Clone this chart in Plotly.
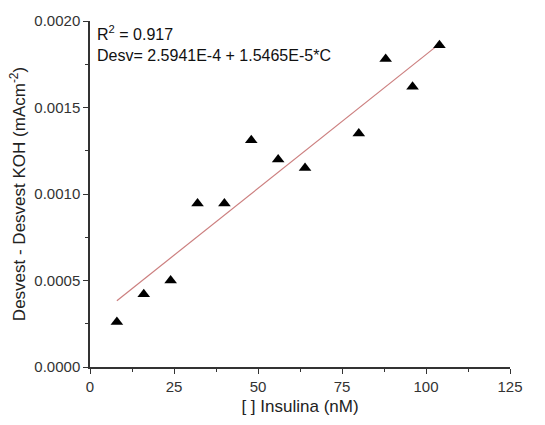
import plotly.graph_objects as go

conc = [8, 16, 24, 32, 40, 48, 56, 64, 80, 88, 96, 104]
desv = [0.00026, 0.00042, 0.00050, 0.000945, 0.000945, 0.00131, 0.00120, 0.00115, 0.00135, 0.00178, 0.00162, 0.00186]
intercept = 2.5941e-4
slope = 1.5465e-5
fit_x = [8, 104]
fit_y = [intercept + slope * c for c in fit_x]

font = "Liberation Sans, Arial, sans-serif"
fig = go.Figure()
fig.add_trace(go.Scatter(x=fit_x, y=fit_y, mode="lines",
                         line=dict(color="#cc7f7f", width=1.2), showlegend=False))
fig.add_trace(go.Scatter(x=conc, y=desv, mode="markers",
                         marker=dict(symbol="triangle-up", size=11, color="black"),
                         showlegend=False))

axis_common = dict(showline=True, linecolor="#333333", linewidth=1.5, ticks="outside",
                   ticklen=5, tickwidth=1.3, tickcolor="#333333", showgrid=False,
                   zeroline=False, tickfont=dict(family=font, size=15, color="#333333"),
                   mirror=False)
fig.update_xaxes(range=[0, 125], tickvals=[0, 25, 50, 75, 100, 125],
                 minor=dict(ticks="outside", ticklen=3, tickwidth=1, tickcolor="#333333", dtick=12.5),
                 title=dict(text="[ ] Insulina (nM)", font=dict(family=font, size=17, color="#222222"), standoff=6),
                 **axis_common)
fig.update_yaxes(range=[0, 0.002], tickvals=[0, 0.0005, 0.001, 0.0015, 0.002],
                 ticktext=["0.0000", "0.0005", "0.0010", "0.0015", "0.0020"],
                 minor=dict(ticks="outside", ticklen=3, tickwidth=1, tickcolor="#333333", dtick=0.00025),
                 title=dict(text="Desvest - Desvest KOH (mAcm<sup>-2</sup>)", font=dict(family=font, size=17, color="#222222"), standoff=4),
                 **axis_common)

fig.add_annotation(x=0, y=1, xref="paper", yref="paper", xanchor="left", yanchor="top",
                   xshift=5, yshift=0, align="left", showarrow=False,
                   text="R<sup>2</sup> = 0.917<br>Desv= 2.5941E-4 + 1.5465E-5*C",
                   font=dict(family=font, size=16, color="#111111"))

fig.update_layout(width=545, height=425, margin=dict(l=90, r=35, t=15, b=56),
                  plot_bgcolor="white", paper_bgcolor="white")
fig.write_html("out.html")
